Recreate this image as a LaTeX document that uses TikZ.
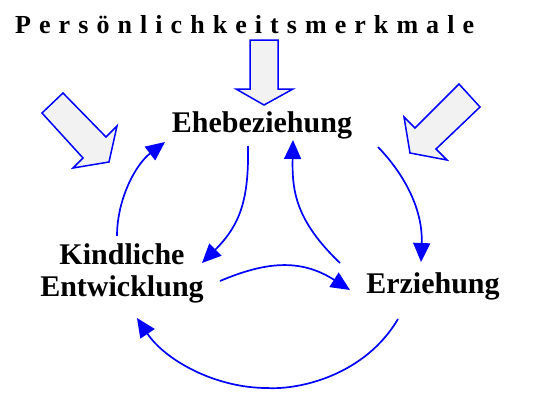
\documentclass[tikz,border=0pt]{standalone}
\usepackage{fontspec}
\setmainfont{Liberation Serif}
\usetikzlibrary{arrows.meta}
\definecolor{arrowfill}{RGB}{242,242,242}
\tikzset{
  label/.style={font=\fontsize{30}{32}\selectfont\bfseries, align=center, inner sep=0pt},
  flow/.style={blue, line width=1.7pt, -{Triangle[length=19pt,width=17pt]}},
  bigarrow/.style={draw=blue, line width=1.5pt, fill=arrowfill, line join=miter}
}
\begin{document}
\begin{tikzpicture}[x=1pt,y=-1pt]
\useasboundingbox (0,0) rectangle (550,400);
\node[label, anchor=base west, font=\fontsize{26}{30}\selectfont\bfseries\addfontfeature{LetterSpace=31}] (title) at (15,33) {Persönlichkeitsmerkmale};
\node[label, anchor=base] (ehe) at (262,132) {Ehebeziehung};
\node[label] (kind) at (122,273) {Kindliche\\Entwicklung};
\node[label, anchor=base] (erz) at (433,293) {Erziehung};
\draw[bigarrow] (250,40) -- (278,40) -- (278,89) -- (293,89) -- (264,105) -- (236,89) -- (250,89) -- cycle;
\draw[bigarrow] (42,113) -- (63,93) -- (106,137) -- (117,126) -- (109,162) -- (73,168) -- (83,158) -- cycle;
\draw[bigarrow] (459,84) -- (480,107) -- (436,149) -- (447,160) -- (410,153) -- (404,117) -- (415,128) -- cycle;
\coordinate (kindTop) at (117,236);
\coordinate (kindIn) at (202,263);
\coordinate (kindRight) at (220,281);
\coordinate (kindLow) at (137,318);
\coordinate (eheLeft) at (165,142);
\coordinate (eheMid) at (248,146);
\coordinate (eheIn) at (293,140);
\coordinate (eheRight) at (378,147);
\coordinate (erzTop) at (421,262);
\coordinate (erzLeft) at (340,263);
\coordinate (erzIn) at (350,290);
\coordinate (erzLow) at (398,319);
\draw[flow] (kindTop) .. controls (117,200) and (135,165) .. (eheLeft);
\draw[flow] (eheMid) .. controls (249,200) and (240,225) .. (kindIn);
\draw[flow] (erzLeft) .. controls (295,220) and (292,190) .. (eheIn);
\draw[flow] (eheRight) .. controls (405,175) and (423,210) .. (erzTop);
\draw[flow] (kindRight) .. controls (265,262) and (300,258) .. (erzIn);
\draw[flow] (erzLow) .. controls (365,375) and (300,390) .. (267,388) .. controls (215,388) and (165,360) .. (kindLow);
\end{tikzpicture}
\end{document}
